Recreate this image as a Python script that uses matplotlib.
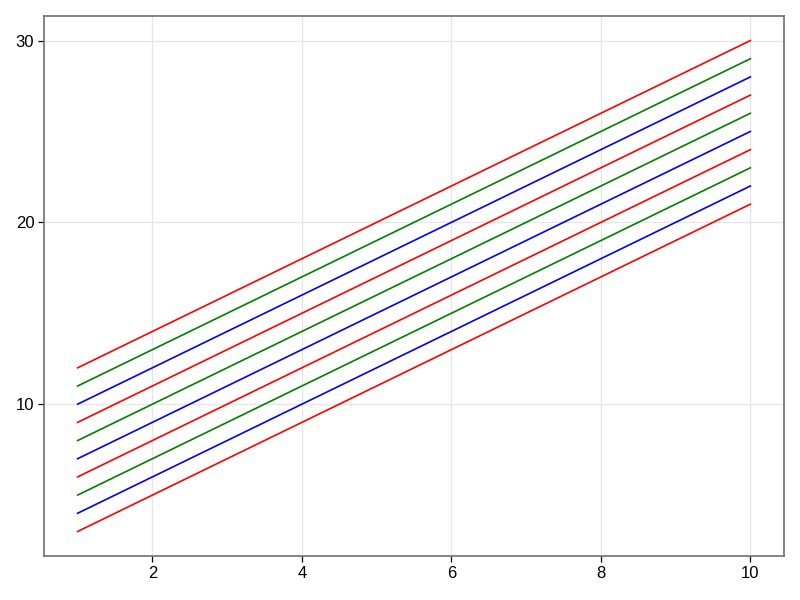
import matplotlib
matplotlib.use("Agg")
import matplotlib.pyplot as plt

# ten straight lines from x=1 to x=10
x_ends = [1, 10]
y_start = [3, 4, 5, 6, 7, 8, 9, 10, 11, 12]
y_end = [21, 22, 23, 24, 25, 26, 27, 28, 29, 30]
colors = ["red", "blue", "green"]

plt.rcParams['font.family'] = ['Liberation Sans', 'DejaVu Sans']

fig = plt.figure(figsize=(8, 6), dpi=100)
ax = fig.add_axes([44 / 800, 44 / 600, 740 / 800, 540 / 600])

for i in range(len(y_start)):
    ax.plot(x_ends, [y_start[i], y_end[i]], color=colors[i % 3], lw=1.2)

ax.set_xlim(0.55, 10.45)
ax.set_ylim(1.65, 31.35)
ax.set_xticks([2, 4, 6, 8, 10])
ax.set_yticks([10, 20, 30])
ax.grid(True, color="#e6e6e6", lw=0.9)
ax.set_axisbelow(True)
for s in ax.spines.values():
    s.set_color("#707070")
    s.set_linewidth(1.2)
ax.tick_params(direction="out", length=4, width=0.9, color="black",
               labelsize=12, pad=3)

fig.savefig("out.png", dpi=100)
